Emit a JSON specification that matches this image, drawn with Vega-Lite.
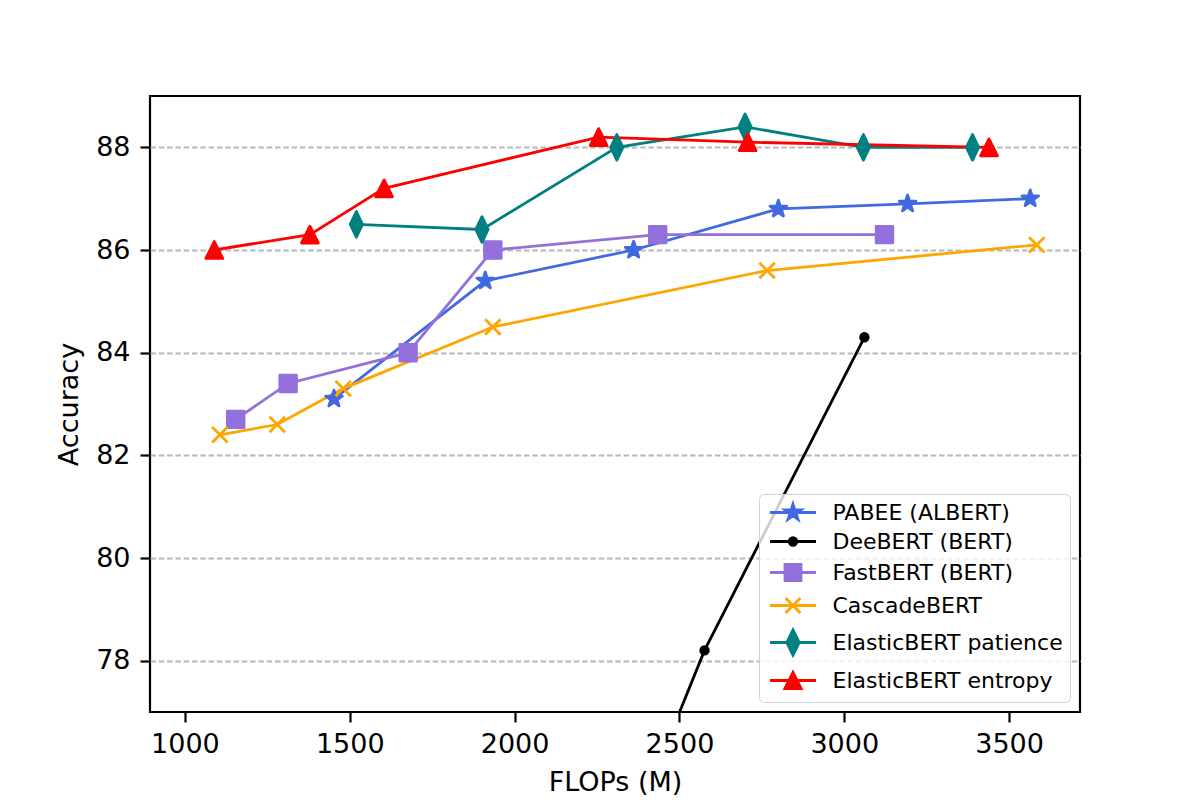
{
  "$schema": "https://vega.github.io/schema/vega-lite/v6.json",
  "autosize": "none",
  "width": 930,
  "height": 616,
  "padding": {"left": 150, "top": 96, "right": 120, "bottom": 88},
  "background": "white",
  "config": {
    "view": {"stroke": "black", "strokeWidth": 2.2},
    "font": "DejaVu Sans",
    "axis": {
      "labelFont": "DejaVu Sans",
      "labelFontSize": 27,
      "labelColor": "black",
      "titleFont": "DejaVu Sans",
      "titleFontSize": 27,
      "titleFontWeight": "normal",
      "titleColor": "black",
      "tickColor": "black",
      "tickWidth": 2.2,
      "tickSize": 10,
      "domain": false
    }
  },
  "data": {
    "values": [
      {"series": "PABEE (ALBERT)", "flops": 1452, "acc": 83.1},
      {"series": "PABEE (ALBERT)", "flops": 1911, "acc": 85.4},
      {"series": "PABEE (ALBERT)", "flops": 2361, "acc": 86.0},
      {"series": "PABEE (ALBERT)", "flops": 2800, "acc": 86.8},
      {"series": "PABEE (ALBERT)", "flops": 3192, "acc": 86.9},
      {"series": "PABEE (ALBERT)", "flops": 3564, "acc": 87.0},
      {"series": "DeeBERT (BERT)", "flops": 1022, "acc": 53.5},
      {"series": "DeeBERT (BERT)", "flops": 2576, "acc": 78.2},
      {"series": "DeeBERT (BERT)", "flops": 3061, "acc": 84.3},
      {"series": "FastBERT (BERT)", "flops": 1154, "acc": 82.7},
      {"series": "FastBERT (BERT)", "flops": 1313, "acc": 83.4},
      {"series": "FastBERT (BERT)", "flops": 1677, "acc": 84.0},
      {"series": "FastBERT (BERT)", "flops": 1934, "acc": 86.0},
      {"series": "FastBERT (BERT)", "flops": 2434, "acc": 86.3},
      {"series": "FastBERT (BERT)", "flops": 3122, "acc": 86.3},
      {"series": "CascadeBERT", "flops": 1106, "acc": 82.4},
      {"series": "CascadeBERT", "flops": 1280, "acc": 82.6},
      {"series": "CascadeBERT", "flops": 1480, "acc": 83.3},
      {"series": "CascadeBERT", "flops": 1934, "acc": 84.5},
      {"series": "CascadeBERT", "flops": 2766, "acc": 85.6},
      {"series": "CascadeBERT", "flops": 3584, "acc": 86.1},
      {"series": "ElasticBERT patience", "flops": 1520, "acc": 86.5},
      {"series": "ElasticBERT patience", "flops": 1901, "acc": 86.4},
      {"series": "ElasticBERT patience", "flops": 2310, "acc": 88.0},
      {"series": "ElasticBERT patience", "flops": 2699, "acc": 88.4},
      {"series": "ElasticBERT patience", "flops": 3058, "acc": 88.0},
      {"series": "ElasticBERT patience", "flops": 3389, "acc": 88.0},
      {"series": "ElasticBERT entropy", "flops": 1089, "acc": 86.0},
      {"series": "ElasticBERT entropy", "flops": 1379, "acc": 86.3},
      {"series": "ElasticBERT entropy", "flops": 1604, "acc": 87.2},
      {"series": "ElasticBERT entropy", "flops": 2255, "acc": 88.2},
      {"series": "ElasticBERT entropy", "flops": 2707, "acc": 88.1},
      {"series": "ElasticBERT entropy", "flops": 3439, "acc": 88.0}
    ]
  },
  "encoding": {
    "x": {
      "field": "flops", "type": "quantitative",
      "scale": {"domain": [894, 3715], "nice": false, "zero": false},
      "axis": {"title": "FLOPs (M)", "values": [1000, 1500, 2000, 2500, 3000, 3500], "format": "d", "grid": false, "labelPadding": 9, "titlePadding": 12, "labelFlush": false}
    },
    "y": {
      "field": "acc", "type": "quantitative",
      "scale": {"domain": [77, 89], "nice": false, "zero": false},
      "axis": {"title": "Accuracy", "values": [78, 80, 82, 84, 86, 88], "grid": true, "gridColor": "#b8b8b8", "gridWidth": 2, "gridDash": [5.5, 2.8], "labelPadding": 10, "titlePadding": 12}
    }
  },
  "layer": [
    {
      "mark": {"type": "line", "strokeWidth": 2.8, "clip": true},
      "encoding": {
        "color": {
          "field": "series", "type": "nominal",
          "scale": {
            "domain": ["PABEE (ALBERT)", "DeeBERT (BERT)", "FastBERT (BERT)", "CascadeBERT", "ElasticBERT patience", "ElasticBERT entropy"],
            "range": ["#4169E1", "#000000", "#9370DB", "#FFA500", "#008080", "#FF0000"]
          },
          "legend": {
            "title": null,
            "orient": "bottom-right",
            "offset": 10,
            "zindex": 1,
            "symbolSize": 400,
            "symbolOffset": 15.5,
            "labelOffset": 28,
            "labelFont": "DejaVu Sans",
            "labelFontSize": 22,
            "labelColor": "black",
            "labelLimit": 400,
            "padding": 7,
            "rowPadding": 5,
            "fillColor": "rgba(255,255,255,0.8)",
            "strokeColor": "#d0d0d0",
            "cornerRadius": 5,
            "symbolStrokeWidth": 2.8,
            "symbolOpacity": 1
          }
        },
        "order": {"field": "flops", "type": "quantitative"}
      }
    },
    {
      "transform": [{"filter": "datum.series === 'PABEE (ALBERT)'"}],
      "mark": {"type": "point", "filled": true, "size": 850, "opacity": 1, "fill": "#4169E1", "stroke": "#4169E1", "strokeWidth": 2.8, "strokeJoin": "round", "clip": true,
        "shape": "M0,-0.6L0.135,-0.185L0.571,-0.185L0.218,0.071L0.353,0.485L0,0.229L-0.353,0.485L-0.218,0.071L-0.571,-0.185L-0.135,-0.185Z"}
    },
    {
      "transform": [{"filter": "datum.series === 'DeeBERT (BERT)'"}],
      "mark": {"type": "point", "filled": true, "size": 850, "opacity": 1, "fill": "#000000", "stroke": "#000000", "strokeWidth": 2.8, "strokeJoin": "round", "clip": true,
        "shape": "M0.26,0A0.26,0.26,0,1,1,-0.26,0A0.26,0.26,0,1,1,0.26,0Z"}
    },
    {
      "transform": [{"filter": "datum.series === 'FastBERT (BERT)'"}],
      "mark": {"type": "point", "filled": true, "size": 850, "opacity": 1, "fill": "#9370DB", "stroke": "#9370DB", "strokeWidth": 2.8, "strokeJoin": "round", "clip": true,
        "shape": "M-0.57,-0.57L0.57,-0.57L0.57,0.57L-0.57,0.57Z"}
    },
    {
      "transform": [{"filter": "datum.series === 'CascadeBERT'"}],
      "mark": {"type": "point", "filled": false, "size": 850, "opacity": 1, "fill": "transparent", "stroke": "#FFA500", "strokeWidth": 2.8, "clip": true,
        "shape": "M-0.53,-0.53L0.53,0.53M-0.53,0.53L0.53,-0.53"}
    },
    {
      "transform": [{"filter": "datum.series === 'ElasticBERT patience'"}],
      "mark": {"type": "point", "filled": true, "size": 850, "opacity": 1, "fill": "#008080", "stroke": "#008080", "strokeWidth": 2.8, "strokeJoin": "round", "clip": true,
        "shape": "M0,-0.88L0.42,0L0,0.88L-0.42,0Z"}
    },
    {
      "transform": [{"filter": "datum.series === 'ElasticBERT entropy'"}],
      "mark": {"type": "point", "filled": true, "size": 850, "opacity": 1, "fill": "#FF0000", "stroke": "#FF0000", "strokeWidth": 2.8, "strokeJoin": "round", "clip": true,
        "shape": "M0,-0.58L0.58,0.58L-0.58,0.58Z"}
    },
    {
      "transform": [{"filter": "datum.flops < 0"}],
      "mark": {"type": "point", "filled": true, "size": 400, "opacity": 1, "strokeWidth": 2.8, "strokeJoin": "round"},
      "encoding": {
        "color": {"field": "series", "type": "nominal"},
        "stroke": {
          "field": "series", "type": "nominal",
          "legend": {"title": null},
          "scale": {
            "domain": ["PABEE (ALBERT)", "DeeBERT (BERT)", "FastBERT (BERT)", "CascadeBERT", "ElasticBERT patience", "ElasticBERT entropy"],
            "range": ["#4169E1", "#000000", "#9370DB", "#FFA500", "#008080", "#FF0000"]
          }
        },
        "shape": {
          "field": "series", "type": "nominal",
          "legend": {"title": null},
          "scale": {
            "domain": ["PABEE (ALBERT)", "DeeBERT (BERT)", "FastBERT (BERT)", "CascadeBERT", "ElasticBERT patience", "ElasticBERT entropy"],
            "range": [
              "M-2.3,0L2.3,0M0,-0.84L0.189,-0.26L0.799,-0.26L0.305,0.099L0.494,0.68L0,0.321L-0.494,0.68L-0.305,0.099L-0.799,-0.26L-0.189,-0.26Z",
              "M-2.3,0L2.3,0M0.38,0A0.38,0.38,0,1,1,-0.38,0A0.38,0.38,0,1,1,0.38,0Z",
              "M-2.3,0L2.3,0M-0.8,-0.8L0.8,-0.8L0.8,0.8L-0.8,0.8Z",
              "M-2.3,0L2.3,0M-0.74,-0.74L0.74,0.74M-0.74,0.74L0.74,-0.74",
              "M-2.3,0L2.3,0M0,-1.26L0.62,0L0,1.26L-0.62,0Z",
              "M-2.3,0L2.3,0M0,-0.81L0.81,0.81L-0.81,0.81Z"
            ]
          }
        }
      }
    }
  ]
}
